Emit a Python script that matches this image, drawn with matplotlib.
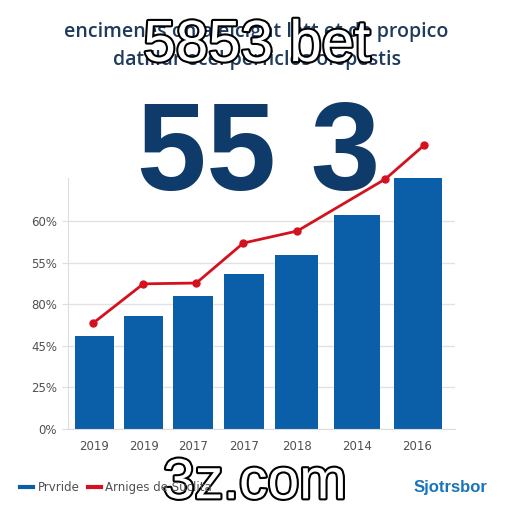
import numpy as np
import matplotlib.pyplot as plt
import matplotlib.patheffects as pe
from matplotlib.lines import Line2D

# data (y in tick steps, 1 step = one gridline)
years = ['2019', '2019', '2017', '2017', '2018', '2014', '2016']
bar_x = [0, 1, 2, 3.03, 4.09, 5.31, 6.53]
bar_w = [0.78, 0.79, 0.81, 0.81, 0.87, 0.93, 0.97]
bar_vals = [2.24, 2.72, 3.2, 3.73, 4.18, 5.14, 6.03]
line_x = [-0.02, 0.99, 2.06, 3.01, 4.1, 5.88, 6.67]
line_vals = [2.55, 3.49, 3.51, 4.47, 4.76, 6.01, 6.83]
ytick_labels = ['0%', '25%', '45%', '80%', '55%', '60%']

blue = '#0b5fa8'
red = '#d4121f'
navy = '#0f3b6b'

fig = plt.figure(figsize=(5.12, 5.12), dpi=100)
ax = fig.add_axes([0.133, 0.162, 0.756, 0.49])

ax.bar(bar_x, bar_vals, width=bar_w, color=blue, zorder=2)
ax.plot(line_x, line_vals, color=red, lw=2, marker='o', ms=5, zorder=3, clip_on=False)

ax.set_xlim(-0.53, 7.29)
ax.set_ylim(0, 6.03)
ax.set_yticks(range(6))
ax.set_yticklabels(ytick_labels)
ax.set_xticks(bar_x)
ax.set_xticklabels(years)
ax.tick_params(axis='both', labelsize=8.5, colors='#dddddd', labelcolor='#505050')
ax.tick_params(axis='y', length=4, pad=4)
ax.tick_params(axis='x', length=0, pad=8)
ax.grid(axis='y', color='#e2e2e2', lw=1, zorder=0)
for s in ['top', 'right']:
    ax.spines[s].set_visible(False)
ax.spines['left'].set_color('#dddddd')
ax.spines['bottom'].set_color('#dddddd')

# title lines
fig.text(0.5, 0.937, 'encimenes on a eicignt lett et de propico', ha='center', va='center',
         fontsize=14, color='#1e3a5c', family='Open Sans', fontweight='semibold')
fig.text(0.503, 0.883, 'datilldr ecel perficlos olepestis', ha='center', va='center',
         fontsize=14, color='#1e3a5c', family='Open Sans', fontweight='semibold')

outline = [pe.withStroke(linewidth=3, foreground='black')]
fig.text(0.502, 0.91, '5853 bet', ha='center', va='center', fontsize=42,
         color='white', family='Liberation Sans', path_effects=outline)

fig.text(0.506, 0.692, '55 3', ha='center', va='center', fontsize=90,
         color=navy, family='Liberation Sans', fontweight='bold')

fig.text(0.498, 0.056, '3z.com', ha='center', va='center', fontsize=41,
         color='white', family='Liberation Sans', path_effects=outline)

handles = [Line2D([], [], color=blue, lw=3), Line2D([], [], color=red, lw=3)]
fig.legend(handles, ['Prvride', 'Arniges de Suclita'], loc='center left',
           bbox_to_anchor=(0.018, 0.047), ncol=2, frameon=False, fontsize=8.5,
           handlelength=1.1, handletextpad=0.4, columnspacing=0.7, labelcolor='#505050')

fig.text(0.88, 0.047, 'Sjotrsbor', ha='center', va='center', fontsize=12,
         color='#1a74bb', fontweight='bold', family='Liberation Sans')

fig.savefig('out.png', dpi=100)
